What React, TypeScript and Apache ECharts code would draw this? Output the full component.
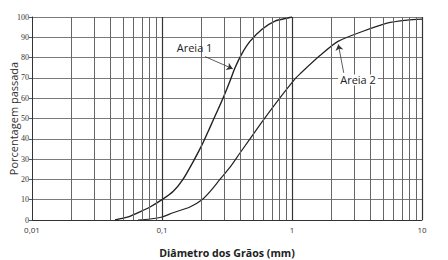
import React, { useEffect, useRef } from "react";
import * as echarts from "echarts";

const areia1X = [0.0435, 0.055, 0.0677, 0.0809, 0.1, 0.1216, 0.145, 0.173, 0.203, 0.226, 0.247, 0.2946, 0.3335, 0.3645, 0.412, 0.475, 0.588, 0.74, 0.93, 1.0];
const areia1Y = [0, 1.5, 4, 6.4, 10, 14, 20, 28.5, 37, 43.5, 49, 60, 68.5, 75, 82, 88, 94, 98, 99.5, 100];

const areia2X = [0.0654, 0.0809, 0.1, 0.1216, 0.164, 0.203, 0.234, 0.279, 0.334, 0.398, 0.568, 0.74, 1.055, 1.153, 1.64, 2.26, 3.52, 5.38, 7.67, 10];
const areia2Y = [0, 0.5, 1.5, 3.6, 6.4, 10, 14, 20, 26, 33, 47, 57, 69.5, 72, 81, 88, 93, 97, 98.5, 99];

const minorGridX = [0.02, 0.03, 0.04, 0.05, 0.06, 0.07, 0.08, 0.09, 0.2, 0.3, 0.4, 0.5, 0.6, 0.7, 0.8, 0.9, 2, 3, 4, 5, 6, 7, 8, 9];
const majorGridX = [0.1, 1, 10];
const xTickValues = [0.01, 0.1, 1, 10];
const xTickLabels = ["0,01", "0,1", "1", "10"];

const label1 = { text: "Areia 1", at: [0.178, 85.2] };
const arrow1 = { from: [0.214, 80.5], to: [0.35, 74.5] };
const label2 = { text: "Areia 2", at: [3.22, 69] };
const arrow2 = { from: [2.5, 72.5], to: [2.27, 86.5] };

const fontSans = "'Open Sans', 'Noto Sans', sans-serif";

export default function App() {
  const ref = useRef<HTMLDivElement>(null);
  useEffect(() => {
    if (!ref.current) return;
    const chart = echarts.init(ref.current, null, { renderer: "svg" });
    const fmtX = (v: number) => {
      for (let i = 0; i < xTickValues.length; i++) {
        if (Math.abs(Math.log10(v) - Math.log10(xTickValues[i])) < 1e-6) return xTickLabels[i];
      }
      return "";
    };
    const textMark = (l: { text: string; at: number[] }, bg: string) => ({
      coord: l.at,
      symbolSize: 0,
      label: {
        show: true,
        position: "inside",
        formatter: l.text,
        color: "#222",
        fontSize: 11,
        fontFamily: fontSans,
        backgroundColor: bg,
        padding: [0, 2],
      },
    });
    chart.setOption({
      animation: false,
      backgroundColor: "#fff",
      grid: { left: 32, right: 26, top: 17, bottom: 40, containLabel: false, outerBoundsMode: "none" },
      xAxis: {
        type: "log",
        logBase: 10,
        min: 0.01,
        max: 10,
        name: "Diâmetro dos Grãos (mm)",
        nameLocation: "middle",
        nameGap: 27,
        nameMoveOverlap: false,
        nameTextStyle: { fontSize: 10.6, fontWeight: "bold", color: "#222", fontFamily: fontSans },
        axisLine: { show: true, lineStyle: { color: "#333", width: 1 } },
        axisTick: { show: false },
        splitLine: { show: false },
        axisLabel: { formatter: fmtX, fontSize: 8, color: "#333", margin: 5, fontFamily: fontSans },
      },
      yAxis: {
        type: "value",
        min: 0,
        max: 100,
        interval: 10,
        name: "Porcentagem passada",
        nameLocation: "middle",
        nameGap: 13,
        nameMoveOverlap: false,
        nameTextStyle: { fontSize: 11, color: "#333", fontFamily: fontSans },
        axisLine: { show: true, lineStyle: { color: "#333", width: 1 } },
        axisTick: { show: true, length: 3, lineStyle: { color: "#555" } },
        splitLine: { show: true, lineStyle: { color: "#7a7a7a", width: 1 } },
        axisLabel: { fontSize: 8, color: "#333", margin: 3, fontFamily: "'Liberation Serif', serif" },
      },
      series: [
        {
          type: "line",
          data: [],
          silent: true,
          z: 1,
          markLine: {
            silent: true,
            symbol: ["none", "none"],
            label: { show: false },
            data: [
              ...minorGridX.map((v) => ({ xAxis: v, lineStyle: { color: "#666", width: 1, type: "solid" } })),
              ...majorGridX.map((v) => ({ xAxis: v, lineStyle: { color: "#333", width: 1.2, type: "solid" } })),
            ],
          },
        },
        {
          name: "Areia 1",
          type: "line",
          z: 3,
          data: areia1X.map((x, i) => [x, areia1Y[i]]),
          showSymbol: false,
          smooth: 0.25,
          lineStyle: { color: "#222", width: 1.4 },
          markLine: {
            silent: true,
            symbol: ["none", "arrow"],
            symbolSize: 6,
            label: { show: false },
            lineStyle: { color: "#333", width: 0.8, type: "solid" },
            data: [[{ coord: arrow1.from }, { coord: arrow1.to }]],
          },
          markPoint: {
            silent: true,
            data: [textMark(label1, "transparent")],
          },
        },
        {
          name: "Areia 2",
          type: "line",
          z: 3,
          data: areia2X.map((x, i) => [x, areia2Y[i]]),
          showSymbol: false,
          smooth: 0.25,
          lineStyle: { color: "#222", width: 1.2 },
          markLine: {
            silent: true,
            symbol: ["none", "arrow"],
            symbolSize: 6,
            label: { show: false },
            lineStyle: { color: "#333", width: 0.8, type: "solid" },
            data: [[{ coord: arrow2.from }, { coord: arrow2.to }]],
          },
          markPoint: {
            silent: true,
            data: [textMark(label2, "#fff")],
          },
        },
      ],
    });
    return () => chart.dispose();
  }, []);
  return (
    <div
      ref={ref}
      style={{ position: "absolute", left: 0, top: 0, width: 448, height: 260, background: "#fff" }}
    />
  );
}
